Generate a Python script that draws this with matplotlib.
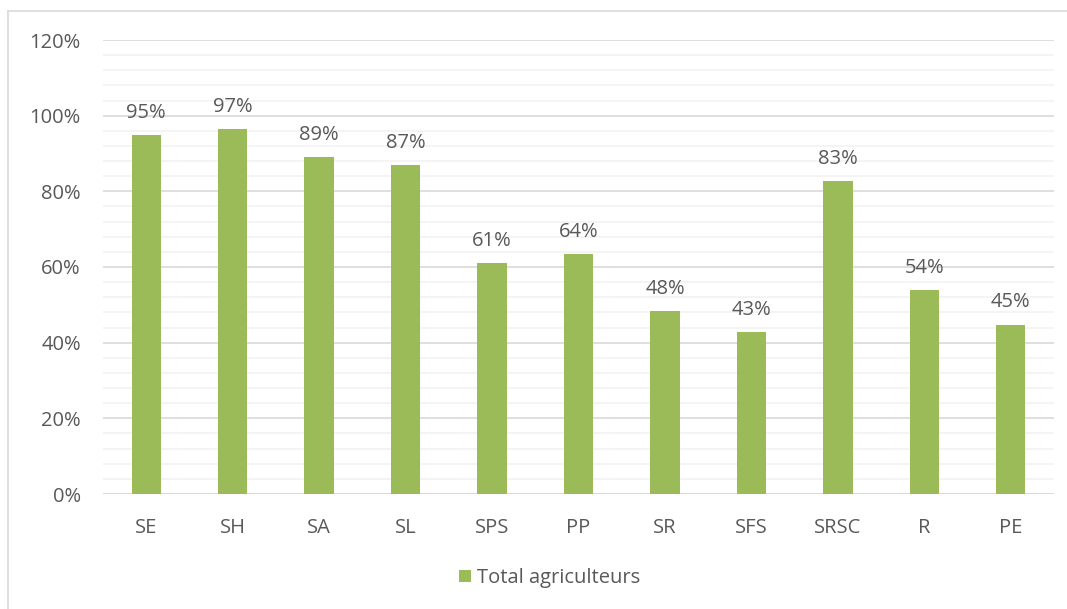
import matplotlib
matplotlib.use("Agg")
import matplotlib.pyplot as plt
from matplotlib.lines import Line2D
from matplotlib.patches import Patch
import numpy as np

categories = ["SE", "SH", "SA", "SL", "SPS", "PP", "SR", "SFS", "SRSC", "R", "PE"]
values = [0.949, 0.965, 0.891, 0.870, 0.611, 0.634, 0.484, 0.427, 0.827, 0.539, 0.448]
labels = ["95%", "97%", "89%", "87%", "61%", "64%", "48%", "43%", "83%", "54%", "45%"]
series_name = "Total agriculteurs"
yticks = [0, 0.2, 0.4, 0.6, 0.8, 1.0, 1.2]
ytick_labels = ["0%", "20%", "40%", "60%", "80%", "100%", "120%"]

plt.rcParams['font.family'] = ['Open Sans', 'DejaVu Sans']
W, H = 1067, 609
fig = plt.figure(figsize=(W / 100, H / 100), dpi=100)
ax = fig.add_axes([103 / W, 1 - 494 / H, (1054 - 103) / W, (494 - 40) / H])

green = "#9BBB59"
text_col = "#595959"
fs = 14.5
x = np.arange(len(categories))
ax.bar(x, values, width=0.34, color=green, zorder=3)
for xi, v, lab in zip(x, values, labels):
    ax.text(xi, v + 0.045, lab, ha="center", va="baseline", fontsize=fs, color=text_col, zorder=4)

ax.set_xlim(-0.5, len(categories) - 0.5)
ax.set_ylim(0, 1.2)
ax.set_yticks(yticks)
ax.set_yticklabels(ytick_labels)
ax.set_yticks(np.arange(0, 1.2001, 0.04), minor=True)
ax.set_xticks(x)
ax.set_xticklabels(categories)
ax.tick_params(axis="both", which="both", length=0, colors=text_col, labelsize=fs)
ax.tick_params(axis="y", pad=16)
ax.tick_params(axis="x", pad=17)
ax.grid(axis="y", which="minor", color="#F2F2F2", linewidth=1.2, zorder=1)
ax.grid(axis="y", which="major", color="#D9D9D9", linewidth=1.2, zorder=2)
for s in ax.spines.values():
    s.set_visible(False)
ax.axhline(0, color="#D9D9D9", linewidth=1.2, zorder=2)

handle = Patch(facecolor=green, edgecolor="none")
fig.legend([handle], [series_name], loc="center", bbox_to_anchor=(550 / W, 1 - 578 / H),
           frameon=False, fontsize=fs, labelcolor=text_col, handlelength=0.6, handleheight=0.6,
           handletextpad=0.3)

fig.add_artist(Line2D([8 / W, 1], [1 - 11 / H, 1 - 11 / H], transform=fig.transFigure, color="#D9D9D9", linewidth=1.2))
fig.add_artist(Line2D([8 / W, 8 / W], [0, 1 - 11 / H], transform=fig.transFigure, color="#D9D9D9", linewidth=1.2))

fig.savefig("out.png", dpi=100)
